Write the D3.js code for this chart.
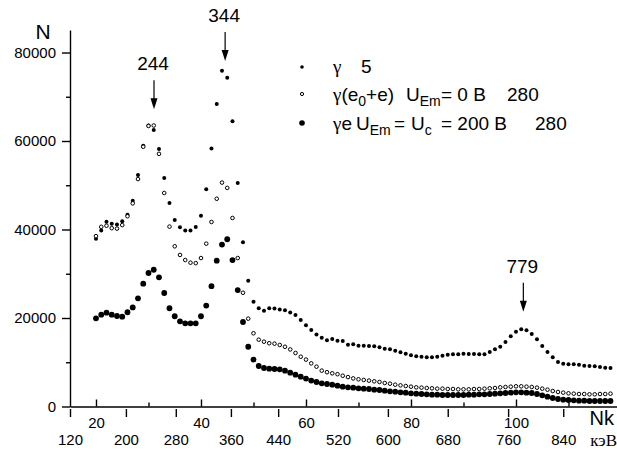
<!DOCTYPE html>
<html>
<head>
<meta charset="utf-8">
<script src="https://cdn.jsdelivr.net/npm/d3@7"></script>
<style>
  body { margin: 0; background: #fff; }
  svg { display: block; font-family: "Liberation Sans", Arial, sans-serif; }
</style>
</head>
<body>
<div id="chart"></div>
<script>
// channel numbers (one point per channel)
const channels = d3.range(20, 119);

// series: γ (small filled dots)
const gammaCounts = [
  37900, 39800, 41750, 41300, 41150, 41850, 43350, 46500, 52300, 58900,
  63500, 62500, 58200, 51650, 46000, 42150, 40500, 39800, 39800, 40550,
  43100, 49100, 58300, 68350, 75900, 74300, 64450, 50500, 37100, 28400,
  23700, 22200, 21650, 22200, 22150, 21900, 21750, 21250, 20700, 19550,
  18350, 17300, 16250, 15550, 15000, 15250, 14850, 14800, 13950, 14050,
  13750, 13750, 13670, 13600, 13370, 13070, 12920, 12620, 12240, 11940,
  11560, 11340, 11260, 11110, 11110, 11260, 11490, 11710, 11790, 11790,
  11940, 11860, 11860, 11790, 11790, 12320, 12920, 13520, 14580, 15860,
  16910, 17440, 17210, 16380, 15180, 13670, 12320, 11110, 10060, 9680,
  9530, 9530, 9450, 9230, 9150, 9080, 8930, 8780, 8700
];

// series: γ(e0+e), U_Em = 0 B (open circles)
const gammaE0Counts = [
  38500, 40600, 40850, 40300, 40200, 41000, 43000, 45900, 51400, 58700,
  63400, 63500, 57100, 48250, 40650, 36200, 34250, 33100, 32500, 32400,
  33550, 36800, 41700, 46950, 50600, 49400, 42600, 33550, 25700, 19850,
  16550, 15100, 14650, 14300, 14200, 13900, 13500, 12900, 12100, 11250,
  10600, 9750, 9000, 8100, 7750, 7500, 7300, 6950, 6650, 6350,
  6150, 6000, 5850, 5690, 5540, 5310, 5160, 4930, 4780, 4630,
  4480, 4330, 4260, 4180, 4110, 4030, 4030, 3950, 3950, 3880,
  3880, 3880, 3950, 3950, 4030, 4110, 4180, 4330, 4410, 4480,
  4560, 4560, 4480, 4410, 4260, 4030, 3800, 3500, 3280, 3130,
  2980, 2900, 2820, 2820, 2750, 2750, 2820, 2820, 2900
];

// series: γe, U_Em = U_c = 200 B (large filled dots)
const gammaECounts = [
  19930, 20750, 21200, 20750, 20450, 20300, 21300, 22400, 24450, 27750,
  30170, 30900, 29200, 25650, 22200, 20400, 19250, 18800, 18800, 18800,
  20400, 22800, 27200, 32950, 36600, 37800, 33100, 26300, 19100, 13500,
  10600, 9150, 8700, 8550, 8470, 8400, 8100, 7650, 7200, 6750,
  6300, 5850, 5540, 5240, 5080, 4930, 4700, 4480, 4330, 4250,
  4110, 4030, 3950, 3800, 3730, 3580, 3430, 3350, 3200, 3130,
  2980, 2900, 2820, 2750, 2670, 2670, 2600, 2600, 2600, 2600,
  2600, 2670, 2670, 2750, 2750, 2820, 2900, 2980, 3050, 3130,
  3200, 3200, 3130, 3050, 2820, 2520, 2220, 1920, 1690, 1540,
  1470, 1390, 1320, 1320, 1240, 1240, 1240, 1240, 1240
];

// axis ticks
const yMajorTicks = [0, 20000, 40000, 60000, 80000];
const yMinorTicks = [10000, 30000, 50000, 70000];
const chMajorTicks = [20, 40, 60, 80, 100];
const chMinorTicks = [30, 50, 70, 90, 110];
// energy scale (keV) placed at channel positions
const energyLabels = [120, 200, 280, 360, 440, 520, 600, 680, 760, 840];
const energyChannels = [15.05, 25.7, 35.2, 45.7, 54.7, 66.1, 75.6, 87.0, 98.5, 109.0];

// peak annotations: label, channel, count at arrow tip
const peakLabels = ["244", "344", "779"];
const peakChannels = [31.05, 44.6, 101.4];
const peakTips = [67200, 78100, 21400];

const width = 617, height = 453;

const svg = d3.select("#chart").append("svg")
  .attr("width", width)
  .attr("height", height)
  .attr("viewBox", [0, 0, width, height]);

const x = d3.scaleLinear().domain([15.05, 119.24]).range([70, 617]);
const y = d3.scaleLinear().domain([0, 85085]).range([406.5, 30]);

// Y axis
svg.append("g")
  .attr("transform", `translate(${x.range()[0]},0)`)
  .call(d3.axisLeft(y).tickValues(yMajorTicks).tickSize(8).tickSizeOuter(0).tickPadding(6).tickFormat(d3.format("d")));
svg.append("g")
  .attr("transform", `translate(${x.range()[0]},0)`)
  .call(d3.axisLeft(y).tickValues(yMinorTicks).tickSize(4).tickFormat(""))
  .select(".domain").remove();

// channel axis: ticks pointing up, labels below
svg.append("g")
  .attr("transform", `translate(0,${y(0)})`)
  .call(d3.axisBottom(x).tickValues(chMajorTicks).tickSize(-7).tickSizeOuter(0).tickPadding(10.5));
svg.append("g")
  .attr("transform", `translate(0,${y(0)})`)
  .call(d3.axisBottom(x).tickValues(chMinorTicks).tickSize(-4).tickFormat(""))
  .select(".domain").remove();

// energy axis under it
svg.append("g")
  .attr("transform", `translate(0,${y(0) + 2.5})`)
  .call(d3.axisBottom(x).tickValues(energyChannels).tickSize(8)
    .tickPadding(17).tickFormat((d, i) => energyLabels[i]))
  .select(".domain").remove();

svg.selectAll(".tick text").attr("font-size", 15).attr("font-family", "Liberation Sans, Arial, sans-serif").attr("fill", "#000");
svg.selectAll(".tick line, .domain").attr("stroke", "#000").attr("stroke-width", 1.4);

// axis titles
svg.append("text").attr("x", 43).attr("y", 39).attr("text-anchor", "middle")
  .attr("font-size", 21).text("N");
svg.append("text").attr("x", 614).attr("y", 425).attr("text-anchor", "end")
  .attr("font-size", 20).text("Nk");
svg.append("text").attr("x", 617).attr("y", 446).attr("text-anchor", "end")
  .attr("font-family", "Liberation Serif, Times New Roman, serif")
  .attr("font-size", 17).text("кэВ");

// data points
const rows = channels.map((c, i) => ({ch: c, a: gammaCounts[i], b: gammaE0Counts[i], c3: gammaECounts[i]}));

svg.append("g").selectAll("circle")
  .data(rows)
  .join("circle")
    .attr("cx", d => x(d.ch))
    .attr("cy", d => y(d.a))
    .attr("r", 2)
    .attr("fill", "#000");

svg.append("g").selectAll("circle")
  .data(rows)
  .join("circle")
    .attr("cx", d => x(d.ch))
    .attr("cy", d => y(d.b))
    .attr("r", 1.8)
    .attr("fill", "#fff")
    .attr("stroke", "#000")
    .attr("stroke-width", 1);

svg.append("g").selectAll("circle")
  .data(rows)
  .join("circle")
    .attr("cx", d => x(d.ch))
    .attr("cy", d => y(d.c3))
    .attr("r", 2.9)
    .attr("fill", "#000");

// peak arrows
const peaks = svg.append("g");
peakLabels.forEach((lab, i) => {
  const px = x(peakChannels[i]), tip = y(peakTips[i]);
  peaks.append("line")
    .attr("x1", px).attr("x2", px)
    .attr("y1", tip - 29).attr("y2", tip - 8)
    .attr("stroke", "#000").attr("stroke-width", 1.2);
  peaks.append("path")
    .attr("d", `M${px - 3.5},${tip - 11} L${px + 3.5},${tip - 11} L${px},${tip} Z`)
    .attr("fill", "#000");
  peaks.append("text")
    .attr("x", px - 1).attr("y", tip - 39)
    .attr("text-anchor", "middle")
    .attr("font-size", 19)
    .text(lab);
});

// legend
const legend = svg.append("g").attr("font-size", 19);
legend.append("circle").attr("cx", 302).attr("cy", 67).attr("r", 1.8).attr("fill", "#000");
legend.append("circle").attr("cx", 302).attr("cy", 94).attr("r", 1.6)
  .attr("fill", "#fff").attr("stroke", "#000").attr("stroke-width", 1);
legend.append("circle").attr("cx", 302).attr("cy", 123).attr("r", 2.8).attr("fill", "#000");

const serif = "Liberation Serif, Times New Roman, serif";
const sub = 14;

const t1 = legend.append("text").attr("x", 333).attr("y", 73);
t1.append("tspan").attr("font-family", serif).text("γ");
t1.append("tspan").attr("x", 361).text("5");

const t2 = legend.append("text").attr("x", 333).attr("y", 101);
t2.append("tspan").attr("font-family", serif).text("γ");
t2.append("tspan").text("(e");
t2.append("tspan").attr("font-size", sub).attr("dy", 5).text("0");
t2.append("tspan").attr("dy", -5).text("+e)");
t2.append("tspan").attr("x", 406).text("U");
t2.append("tspan").attr("font-size", sub).attr("dy", 5).text("Em");
t2.append("tspan").attr("dy", -5).attr("x", 441).text("= 0 B");
t2.append("tspan").attr("x", 507).text("280");

const t3 = legend.append("text").attr("x", 333).attr("y", 130);
t3.append("tspan").attr("font-family", serif).text("γ");
t3.append("tspan").text("e");
t3.append("tspan").attr("x", 356).text("U");
t3.append("tspan").attr("font-size", sub).attr("dy", 5).text("Em");
t3.append("tspan").attr("dy", -5).attr("x", 394).text("=");
t3.append("tspan").attr("x", 411).text("U");
t3.append("tspan").attr("font-size", sub).attr("dy", 5).text("c");
t3.append("tspan").attr("dy", -5).attr("x", 441).text("= 200 B");
t3.append("tspan").attr("x", 535).text("280");
</script>
</body>
</html>
